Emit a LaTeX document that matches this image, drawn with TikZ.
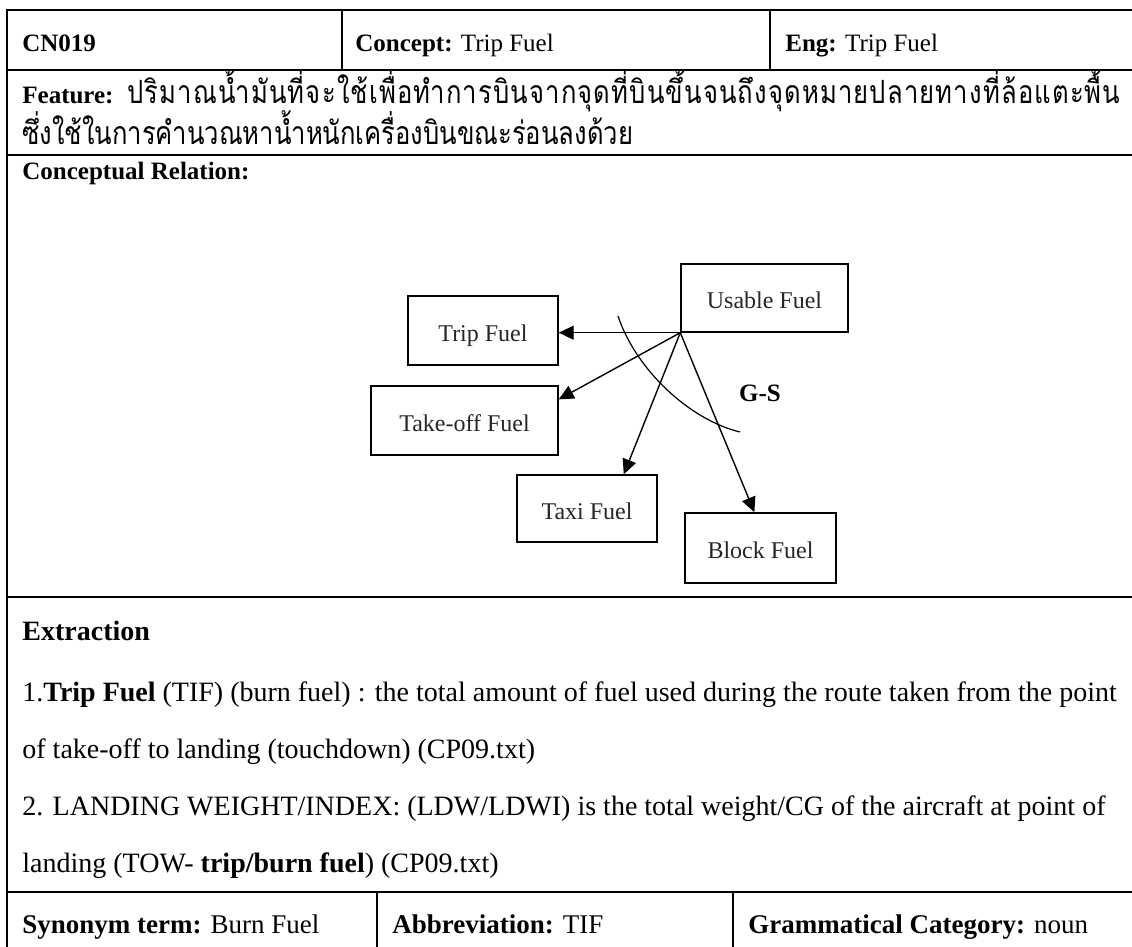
\documentclass[tikz,border=0pt]{standalone}
\usepackage{graphicx}
\usepackage{fontspec}
\setmainfont{Liberation Serif}
\newfontfamily\thaifont[Script=Thai]{Loma}
\usetikzlibrary{calc,arrows.meta}
% Thai text is set narrow; the first line is spread over the cell width
\newcommand\thaitext[1]{\scalebox{0.8}[1]{\thaifont\fontsize{16}{19}\selectfont #1}}
\begin{document}
\begin{tikzpicture}[x=0.5pt,y=-0.5pt,
  rule/.style={line width=1pt},
  cell/.style={anchor=base west,inner sep=0pt,font=\fontsize{12.5}{15}\selectfont},
  bodytext/.style={cell,font=\fontsize{14}{17}\selectfont},
  foottext/.style={cell,font=\fontsize{13.5}{16}\selectfont},
  concept/.style={draw,line width=0.7pt,inner sep=0pt,text height=11pt,text depth=0pt,
    font=\fontsize{12}{14}\selectfont,text=black!85},
  rel/.style={line width=0.7pt,-{Triangle[length=7.5pt,width=7pt]}}]
\useasboundingbox (0,0) rectangle (1132,947);
\clip (0,0) rectangle (1132,947);
% table rules
\draw[rule] (7,1000) -- (7,10) -- (1200,10);
\foreach \y in {70,155,597,892} \draw[rule] (7,\y) -- (1200,\y);
\draw[rule] (342,10) -- (342,70);
\draw[rule] (770,10) -- (770,70);
\draw[rule] (377,892) -- (377,1000);
\draw[rule] (733,892) -- (733,1000);
% header row
\node[cell] (id) at (22,52) {\textbf{CN019}};
\node[cell] (concepthead) at (355,52) {\textbf{Concept:} Trip Fuel};
\node[cell] (eng) at (785,52) {\textbf{Eng:} Trip Fuel};
% feature row
\node[cell] (feat) at (22,104) {\textbf{Feature:}};
\node[cell] (th1) at (127,104) {\thaitext{\makebox[620.6pt][s]{ป\hfil ริ\hfil ม\hfil า\hfil ณ\hfil น้ำ\hfil มั\hfil น\hfil ที่\hfil จ\hfil ะ\hfil ใ\hfil ช้\hfil เ\hfil พื่\hfil อ\hfil ทำ\hfil ก\hfil า\hfil ร\hfil บิ\hfil น\hfil จ\hfil า\hfil ก\hfil จุ\hfil ด\hfil ที่\hfil บิ\hfil น\hfil ขึ้\hfil น\hfil จ\hfil น\hfil ถึ\hfil ง\hfil จุ\hfil ด\hfil ห\hfil ม\hfil า\hfil ย\hfil ป\hfil ล\hfil า\hfil ย\hfil ท\hfil า\hfil ง\hfil ที่\hfil ล้\hfil อ\hfil แ\hfil ต\hfil ะ\hfil พื้\hfil น}}};
\node[cell] (th2) at (22,145) {\thaitext{ซึ่งใช้ในการคำนวณหาน้ำหนักเครื่องบินขณะร่อนลงด้วย}};
% conceptual relation row
\node[cell] (crel) at (22,180) {\textbf{Conceptual Relation:}};
\node[concept,minimum width=83.5pt,minimum height=34pt] (usable) at (764.5,298) {Usable Fuel};
\node[concept,minimum width=75pt,minimum height=34.5pt] (trip) at (483,330.5) {Trip Fuel};
\node[concept,minimum width=93.5pt,minimum height=34.5pt] (takeoff) at (464.5,420.5) {Take-off Fuel};
\node[concept,minimum width=70pt,minimum height=33.5pt] (taxi) at (587,508.5) {Taxi Fuel};
\node[concept,minimum width=75.5pt,minimum height=35pt] (block) at (760.5,548) {Block Fuel};
\draw[rel] (usable.south west) -- (usable.south west -| trip.east);
\draw[rel] (usable.south west) -- ($(takeoff.north east)!0.2!(takeoff.south east)$);
\draw[rel] (usable.south west) -- ($(taxi.north west)!0.76!(taxi.north east)$);
\draw[rel] (usable.south west) -- ($(block.north west)!0.46!(block.north east)$);
\draw[line width=0.6pt] (618,316) .. controls (636,370) and (690,420) .. (740,432);
\node[font=\fontsize{12.5}{15}\selectfont\bfseries,inner sep=0pt] (gs) at (760,393) {G-S};
% extraction row
\node[bodytext] (ext) at (22,640) {\textbf{Extraction}};
\node[bodytext] (e1) at (22,701) {1.\textbf{Trip Fuel} (TIF) (burn fuel) : the total amount of fuel used during the route taken from the point};
\node[bodytext] (e2) at (22,758) {of take-off to landing (touchdown) (CP09.txt)};
\node[bodytext] (e3) at (22,815) {2. LANDING WEIGHT/INDEX: (LDW/LDWI) is the total weight/CG of the aircraft at point of};
\node[bodytext] (e4) at (22,872) {landing (TOW- \textbf{trip/burn fuel}) (CP09.txt)};
% bottom row
\node[foottext] (syn) at (22,933) {\textbf{Synonym term:} Burn Fuel};
\node[foottext] (abbr) at (392,933) {\textbf{Abbreviation:} TIF};
\node[foottext] (gram) at (748,933) {\textbf{Grammatical Category:} noun};
\end{tikzpicture}
\end{document}
